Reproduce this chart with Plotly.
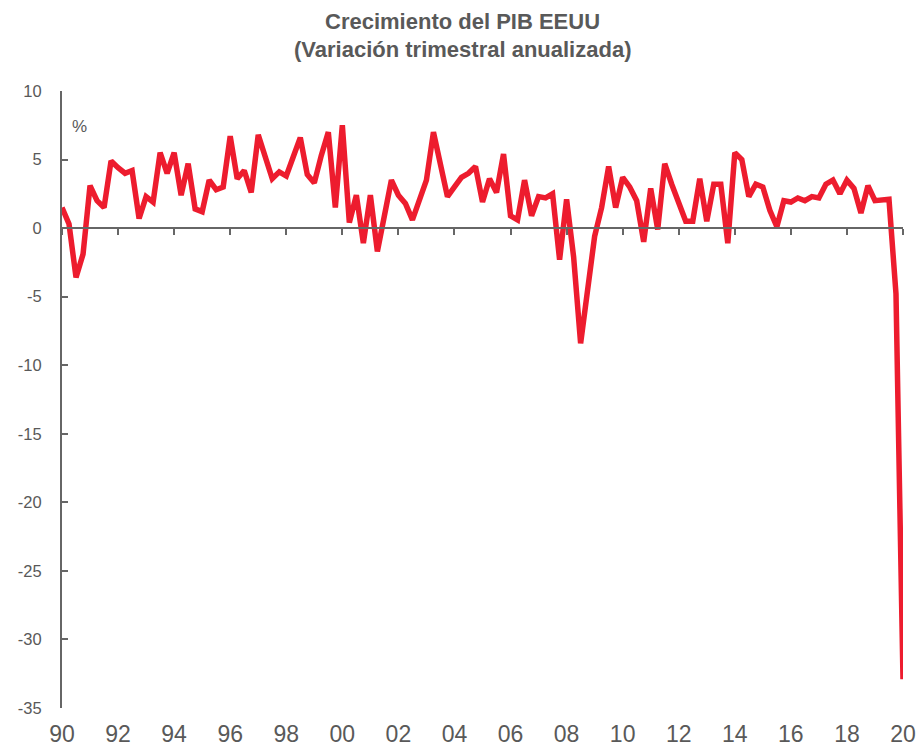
import plotly.graph_objects as go

# Quarterly annualized US GDP growth, 1990Q2 .. 2020Q2
start_year = 1990.0
gdp_growth = [
    1.5, 0.3, -3.6,
    -1.9, 3.1, 2.0, 1.5,
    4.9, 4.4, 4.0, 4.2,
    0.7, 2.3, 1.9, 5.5,
    4.0, 5.5, 2.4, 4.7,
    1.4, 1.2, 3.5, 2.8,
    3.0, 6.7, 3.6, 4.2,
    2.6, 6.8, 5.1, 3.6,
    4.1, 3.8, 5.2, 6.6,
    3.9, 3.3, 5.3, 7.0,
    1.5, 7.5, 0.4, 2.4,
    -1.1, 2.4, -1.7, 1.1,
    3.5, 2.4, 1.8, 0.6,
    2.2, 3.5, 7.0, 4.7,
    2.3, 3.0, 3.7, 4.0,
    4.5, 1.9, 3.6, 2.6,
    5.4, 0.9, 0.6, 3.5,
    0.9, 2.3, 2.2, 2.5,
    -2.3, 2.1, -2.1, -8.4,
    -4.4, -0.6, 1.5, 4.5,
    1.5, 3.7, 3.0, 2.0,
    -1.0, 2.9, -0.1, 4.7,
    3.2, 1.7, 0.5, 0.5,
    3.6, 0.5, 3.2, 3.2,
    -1.1, 5.5, 5.0, 2.3,
    3.2, 3.0, 1.3, 0.1,
    2.0, 1.9, 2.2, 2.0,
    2.3, 2.2, 3.2, 3.5,
    2.5, 3.5, 2.9, 1.1,
    3.1, 2.0, 2.1, 2.1,
    -4.8, -32.9,
]
x_vals = [start_year + i * 0.25 for i in range(len(gdp_growth))]

tick_years = list(range(1990, 2021, 2))
tick_labels = [f"{y % 100:02d}" for y in tick_years]
y_ticks = [10, 5, 0, -5, -10, -15, -20, -25, -30, -35]
y_tick_labels = [str(v) for v in y_ticks]  # plain hyphen minus

title_lines = ["Crecimiento del PIB EEUU", "(Variación trimestral anualizada)"]
unit_label = "%"

GRAY = "#595959"
AXIS_GRAY = "#666666"
RED = "#ED1C2E"
FONT = "Liberation Sans, Arial, sans-serif"

W, H = 919, 750
ML, MR, MT, MB = 62, 16, 91, 42
plot_w, plot_h = W - ML - MR, H - MT - MB

fig = go.Figure()
fig.add_trace(go.Scatter(
    x=x_vals, y=gdp_growth, mode="lines",
    line=dict(color=RED, width=5.5),
    cliponaxis=False, showlegend=False, hoverinfo="x+y",
))
# invisible trace on the secondary x-axis (the zero-line axis)
fig.add_trace(go.Scatter(x=[x_vals[0]], y=[0], xaxis="x2", mode="markers",
                         marker=dict(opacity=0), showlegend=False, hoverinfo="skip"))

y_min, y_max = -35, 10
zero_pos = (0 - y_min) / (y_max - y_min)

fig.update_layout(
    width=W, height=H,
    margin=dict(l=ML, r=MR, t=MT, b=MB, autoexpand=False),
    paper_bgcolor="white", plot_bgcolor="white",
    font=dict(family=FONT, color=GRAY),
    xaxis=dict(
        range=[1990, 2020], tickvals=tick_years, ticktext=tick_labels,
        showline=False, showgrid=False, zeroline=False, ticks="",
        tickfont=dict(size=23, color=GRAY), ticklabelstandoff=10,
        automargin=False,
    ),
    xaxis2=dict(
        range=[1990, 2020], overlaying="x", anchor="free", position=zero_pos,
        tickvals=tick_years, showticklabels=False,
        showline=True, linecolor=AXIS_GRAY, linewidth=2,
        ticks="outside", ticklen=6, tickwidth=2, tickcolor=AXIS_GRAY,
        showgrid=False, zeroline=False, automargin=False,
    ),
    yaxis=dict(
        range=[y_min, y_max], tickvals=y_ticks, ticktext=y_tick_labels,
        showline=True, linecolor=AXIS_GRAY, linewidth=2,
        ticks="inside", ticklen=6, tickwidth=2, tickcolor=AXIS_GRAY,
        showgrid=False, zeroline=False, automargin=False,
        tickfont=dict(size=16.5, color=GRAY), ticklabelstandoff=15,
    ),
)
title_x = (462 - ML) / plot_w
for line, ypix in zip(title_lines, [21, 50]):
    fig.add_annotation(
        x=title_x, xref="paper", y=(H - MB - ypix) / plot_h, yref="paper",
        yanchor="middle", xanchor="center", showarrow=False,
        text="<b>" + line + "</b>",
        font=dict(size=22, color=GRAY, family=FONT),
    )
fig.add_annotation(
    x=1990.62, y=7.4, xref="x", yref="y", text=unit_label, showarrow=False,
    font=dict(size=17, color=GRAY, family=FONT),
)

fig.write_html("out.html", config={"displayModeBar": False},
               post_script="document.body.style.margin='0';")
